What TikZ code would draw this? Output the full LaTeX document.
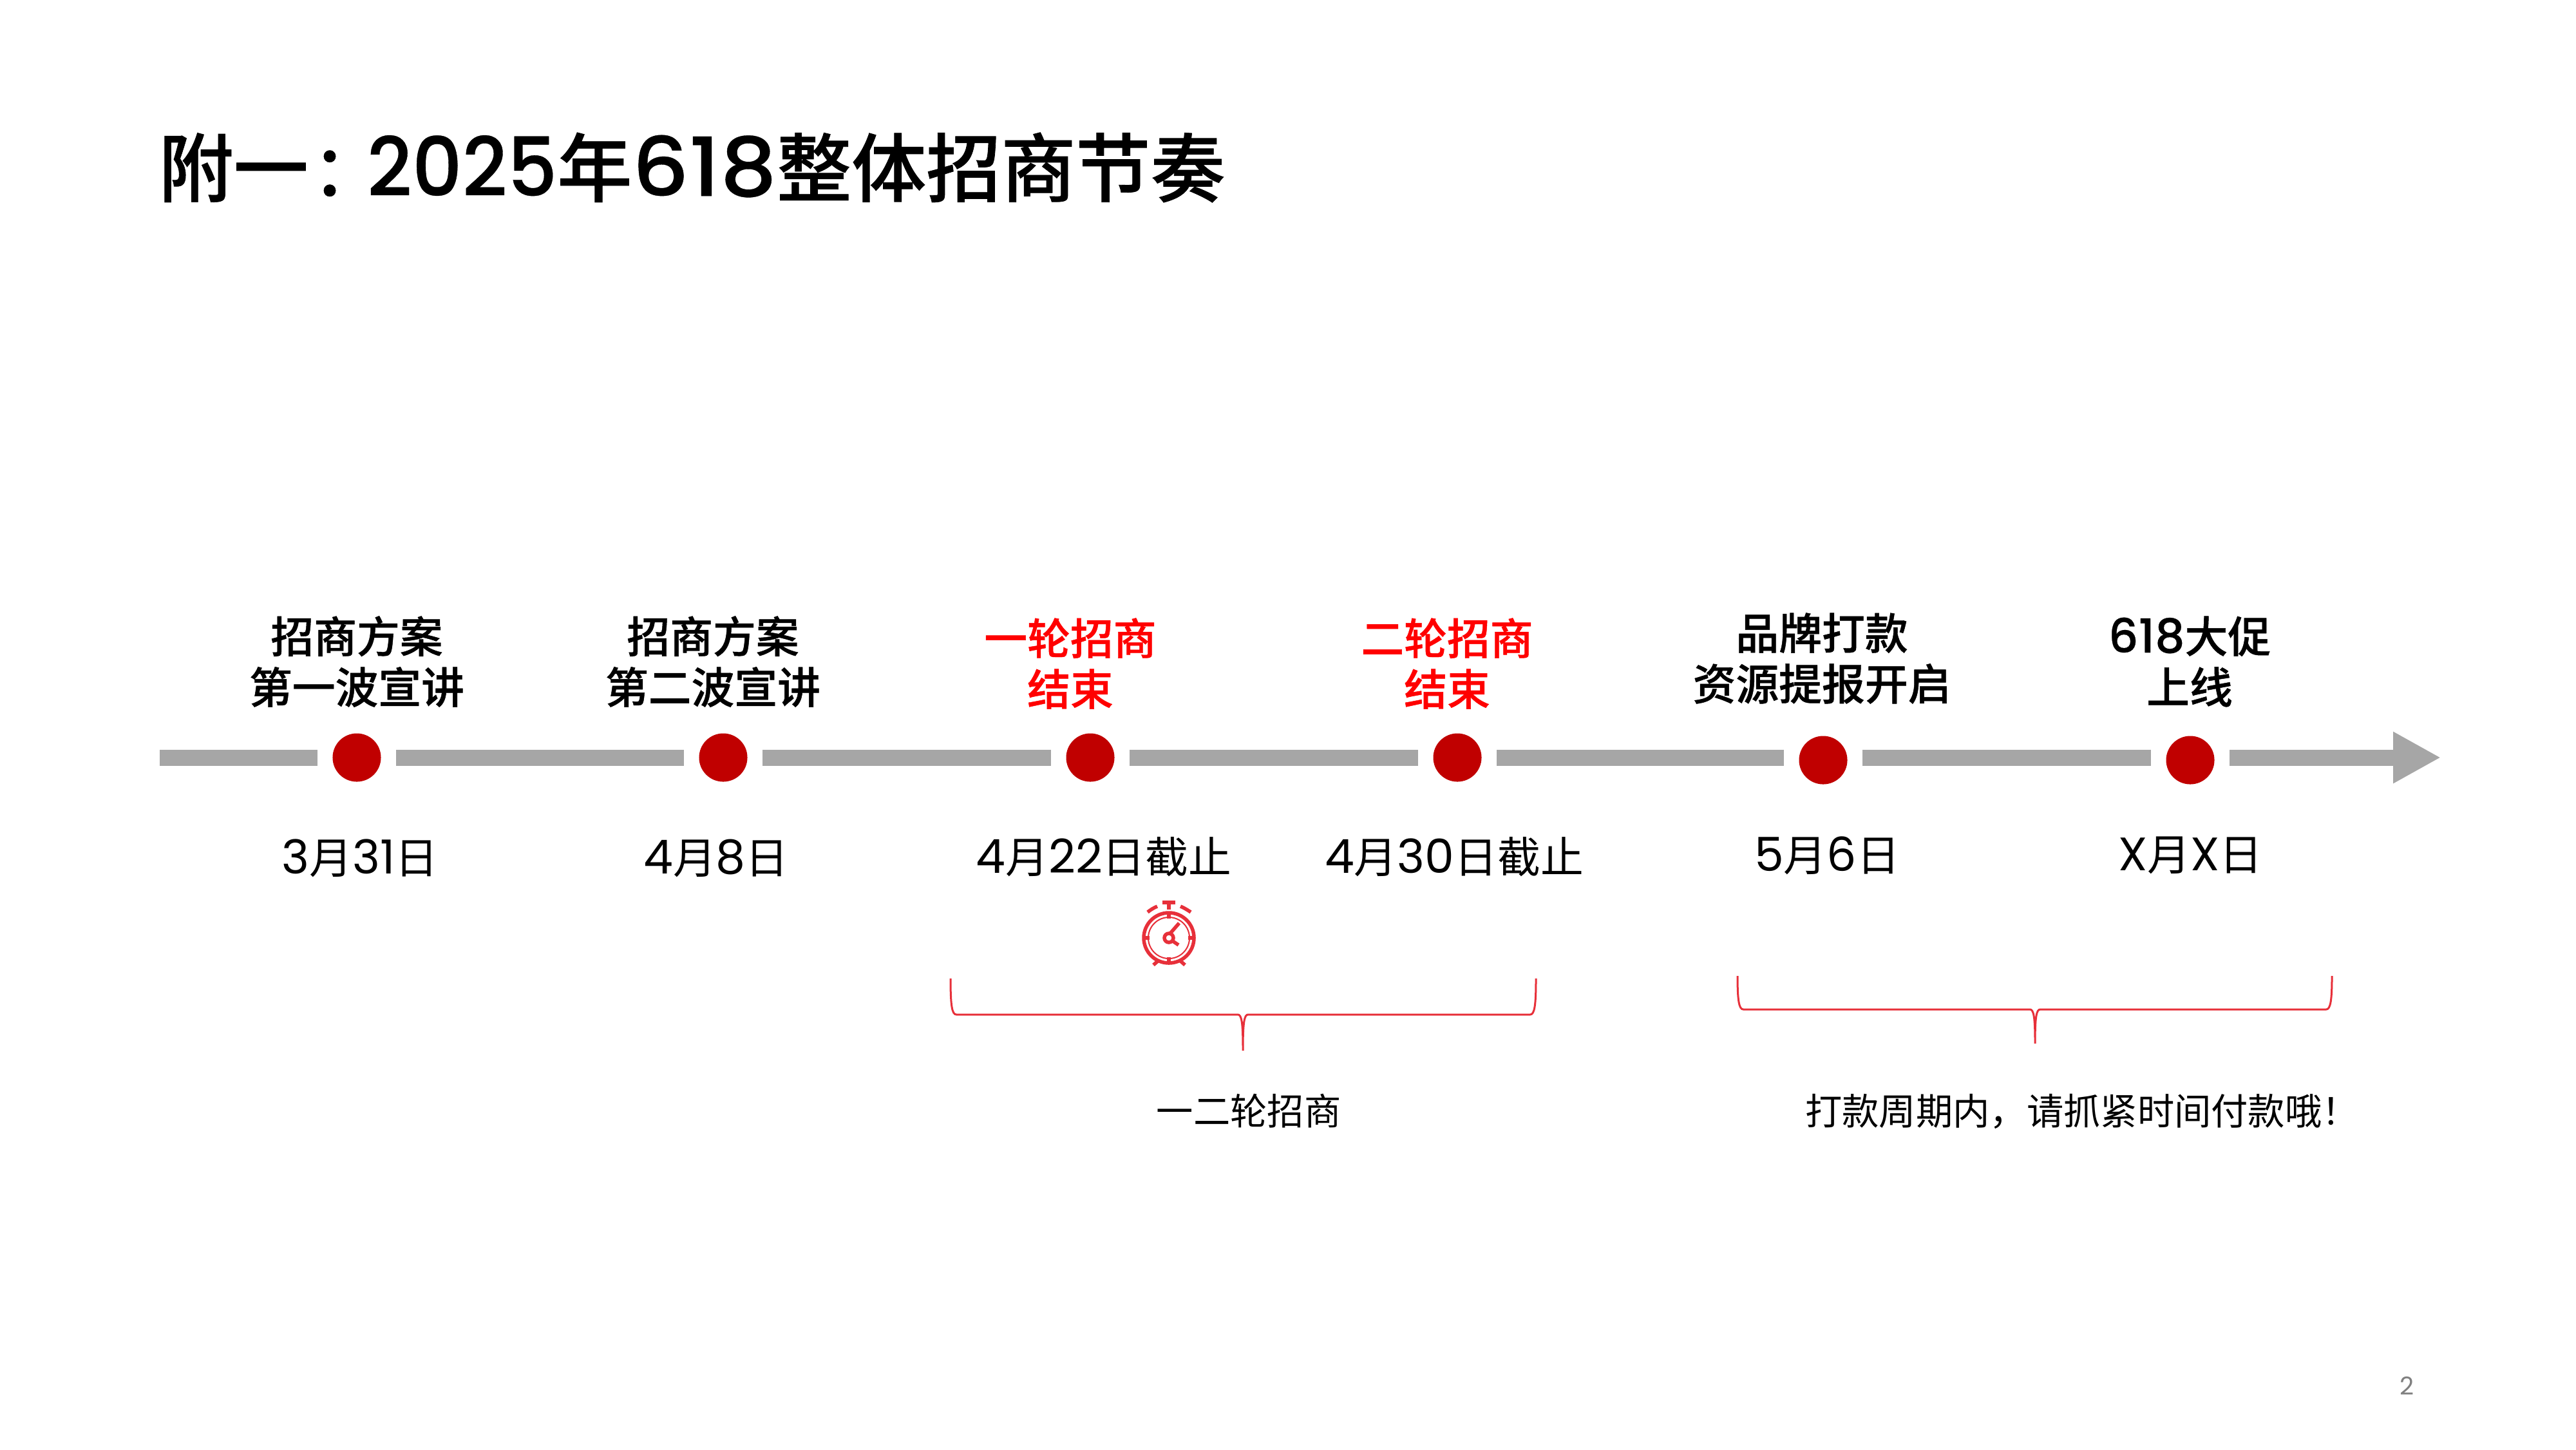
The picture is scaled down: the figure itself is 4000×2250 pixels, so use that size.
\documentclass[tikz,border=0pt]{standalone}
\usepackage{fontspec}
\usetikzlibrary{arrows.meta}
\setmainfont{Noto Sans CJK SC}[BoldFont={Noto Sans CJK SC Medium},BoldFeatures={FakeBold=0.7}]
\newfontfamily\numfont{Poppins}[Scale=1.09,BoldFont={Poppins Medium},BoldFeatures={FakeBold=0.3}]
\newcommand{\lat}[1]{{\numfont #1}}
\newcommand{\bracebar}[6]{\draw[brace] (#1,#4) .. controls (#1,#5-15) and (#1+2,#5) .. (#1+9,#5) -- (#3-8,#5) .. controls (#3-2,#5) and (#3,#5+12) .. (#3,#6) .. controls (#3,#5+12) and (#3+2,#5) .. (#3+8,#5) -- (#2-9,#5) .. controls (#2-2,#5) and (#2,#5-15) .. (#2,#4);}
\definecolor{dotred}{HTML}{C00000}
\definecolor{bargray}{HTML}{A6A6A6}
\definecolor{markred}{HTML}{E7303A}

\begin{document}
\begin{tikzpicture}[x=0.01cm,y=-0.01cm]
\tikzset{dot/.style = {shape=circle,fill=dotred,minimum size=0.75cm,inner sep=0pt,outer sep=0.235cm}}
\tikzset{bar/.style = {draw=bargray,line width=0.25cm}}
\tikzset{head/.style = {-{Triangle[length=0.74cm,width=0.75cm]}}}
\tikzset{toplabel/.style = {align=center,font=\fontsize{19}{22.4}\selectfont\bfseries}}
\tikzset{hotlabel/.style = {toplabel,text=red}}
\tikzset{datelabel/.style = {font=\fontsize{19}{22}\selectfont}}
\tikzset{notelabel/.style = {font=\fontsize{16.3}{19}\selectfont}}
\tikzset{brace/.style = {draw=markred,line width=0.03cm}}
\tikzset{clockline/.style = {draw=markred,line width=0.055cm}}
\useasboundingbox (0,0) rectangle (4000,2250);

\node[anchor=west,inner sep=0pt,font=\fontsize{33}{38}\selectfont\bfseries] (title) at (246,260) {附一\hspace{0.18cm}\lat{:}\hspace{0.42cm}\scalebox{0.96}[1]{\lat{2025}}年\scalebox{1.09}[1]{\lat{618}}整体招商节奏};

\coordinate (start) at (248,1176);
\coordinate (end) at (3790,1176);
\node[dot] (d1) at (554,1176) {};
\node[dot] (d2) at (1123,1176) {};
\node[dot] (d3) at (1693,1176) {};
\node[dot] (d4) at (2263,1176) {};
\node[dot] (d5) at (2831,1180) {};
\node[dot] (d6) at (3401,1180) {};

\draw[bar] (start) -- (d1);
\draw[bar] (d1) -- (d2);
\draw[bar] (d2) -- (d3);
\draw[bar] (d3) -- (d4);
\draw[bar] (d4) -- (d5.west |- d4);
\draw[bar] (d5.east |- d4) -- (d6.west |- d4);
\draw[bar,head] (d6.east |- end) -- (end);

\node[toplabel] (t1) at (554,1027) {招商方案\\第一波宣讲};
\node[toplabel] (t2) at (1107,1027) {招商方案\\第二波宣讲};
\node[hotlabel] (t3) at (1662,1030) {一轮招商\\结束};
\node[hotlabel] (t4) at (2247,1030) {二轮招商\\结束};
\node[toplabel] (t5) at (2829,1022) {品牌打款\\资源提报开启};
\node[toplabel] (t6) at (3400,1027) {\lat{618}大促\\上线};

\node[datelabel] (l1) at (559,1332) {\lat{3}月\lat{31}日};
\node[datelabel] (l2) at (1112,1332) {\lat{4}月\lat{8}日};
\node[datelabel] (l3) at (1714,1330) {\lat{4}月\lat{22}日截止};
\node[datelabel] (l4) at (2258,1330) {\lat{4}月\lat{30}日截止};
\node[datelabel] (l5) at (2837,1328) {\lat{5}月\lat{6}日};
\node[datelabel] (l6) at (3401,1328) {\lat{X}月\lat{X}日};

\draw[clockline] (1815,1456) circle (39);
\draw[markred,line width=0.02cm] (1815,1456) circle (32);
\draw[clockline] (1815,1456) circle (7);
\draw[clockline] (1817,1449) -- (1831,1433);
\draw[clockline] (1821,1461) -- (1830,1467);
\draw[clockline] (1815,1404) -- (1815,1412);
\draw[clockline] (1805,1401) -- (1825,1401);
\draw[clockline] (1815,1417) -- (1815,1426);
\draw[clockline] (1815,1486) -- (1815,1495);
\draw[clockline] (1776,1456) -- (1785,1456);
\draw[clockline] (1845,1456) -- (1854,1456);
\draw[clockline] (1782,1416) .. controls (1787,1412) and (1792,1409) .. (1797,1407);
\draw[clockline] (1833,1407) .. controls (1838,1409) and (1843,1412) .. (1849,1416);
\draw[clockline] (1791,1498) -- (1799,1491);
\draw[clockline] (1840,1498) -- (1832,1491);

\bracebar{1476}{2385}{1930}{1519}{1575}{1631}
\bracebar{2698}{3621}{3160}{1515}{1567}{1620}

\node[notelabel] (n1) at (1939,1725) {一二轮招商};
\node[notelabel] (n2) at (3233,1725) {打款周期内，请抓紧时间付款哦！};

\node[text=gray,font=\fontsize{10}{12}\selectfont\numfont] (page) at (3737,2151) {2};
\end{tikzpicture}
\end{document}
